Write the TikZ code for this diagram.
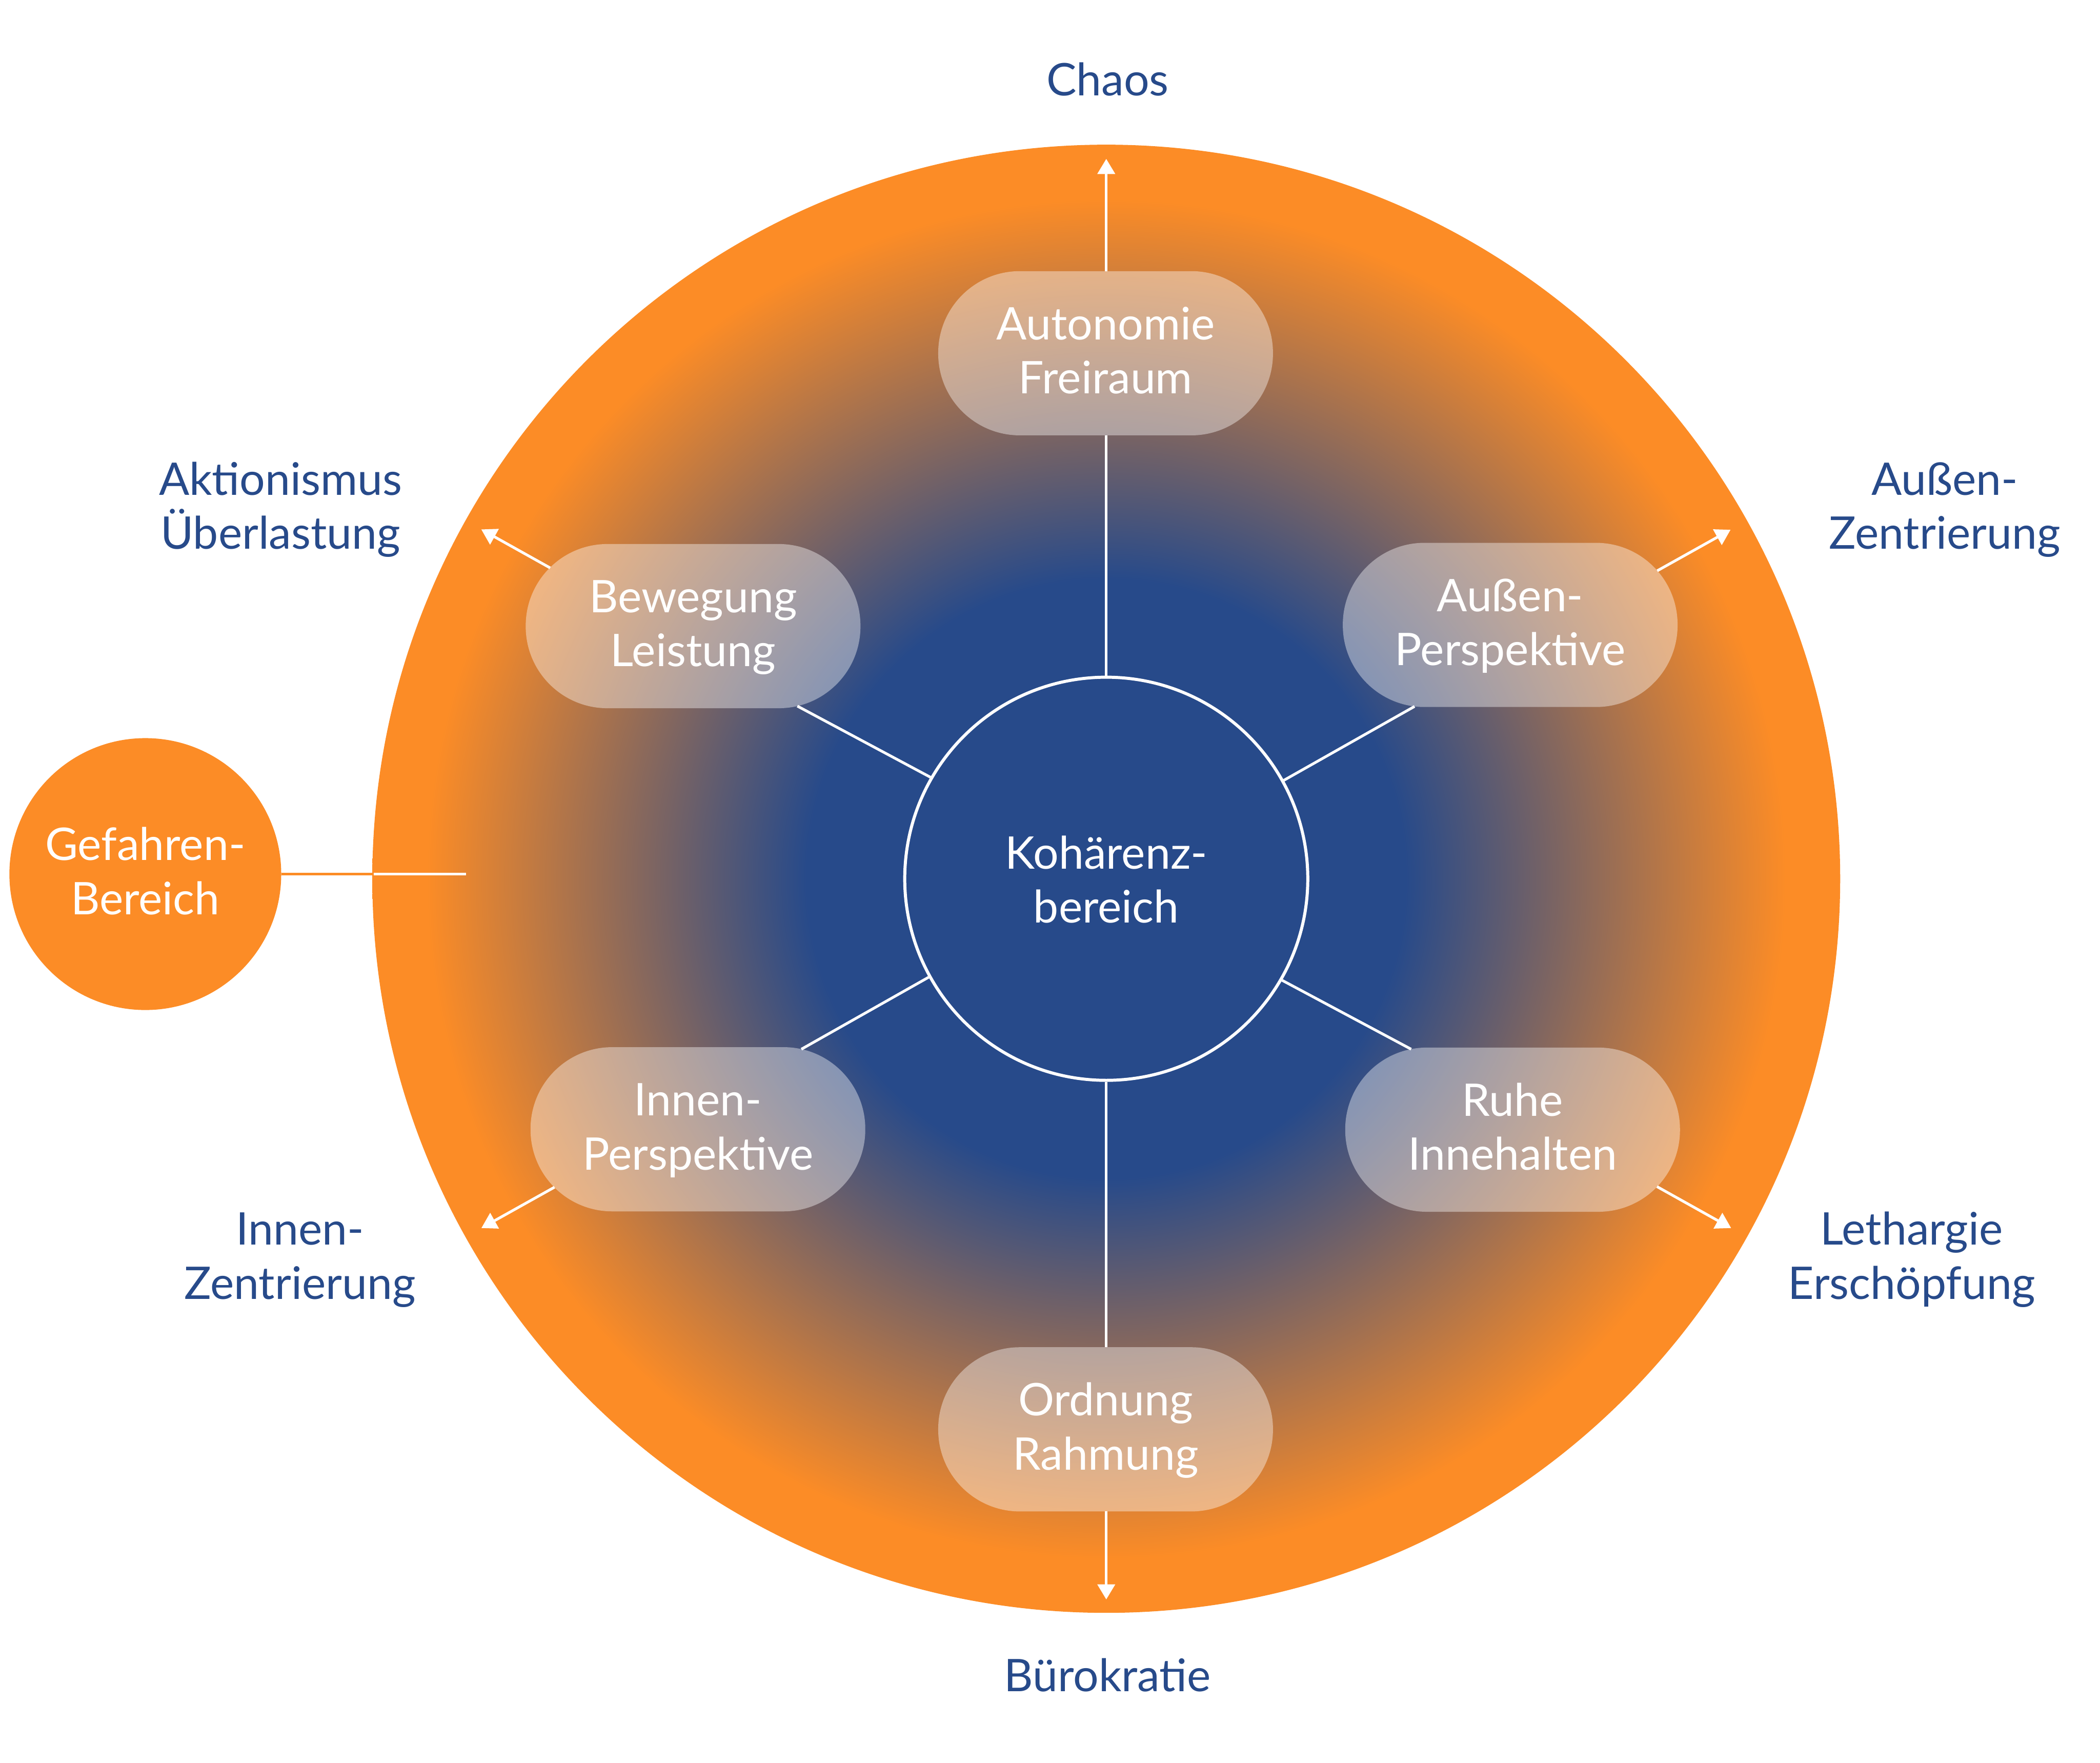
\documentclass[tikz,border=0pt]{standalone}
\usepackage{fontspec}
\setmainfont{Lato}
\usetikzlibrary{arrows.meta,calc}
\definecolor{cblue}{RGB}{39,74,138}
\definecolor{corange}{RGB}{252,140,38}
\pgfdeclareradialshading{bigrad}{\pgfpoint{0bp}{0bp}}{color(0bp)=(cblue); color(10.2bp)=(cblue); color(23.15bp)=(corange); color(25bp)=(corange); color(50bp)=(corange)}
\newcommand{\ls}{\rule[-4.6pt]{0pt}{20.6pt}}
\newcommand{\lstop}{\rule[-4.6pt]{0pt}{23.8pt}}
\begin{document}
\begin{tikzpicture}[x=0.02cm,y=-0.02cm,
  txt/.style={font=\fontsize{19.1pt}{23pt}\selectfont, align=center, inner sep=0pt},
  pill/.style={txt, text=white, fill=white, fill opacity=0.4, text opacity=1, rounded corners=1.22cm, minimum width=5cm, minimum height=2.452cm},
  lab/.style={txt, text=cblue},
  conn/.style={draw=white, line width=1.14pt},
  arr/.style={conn, -{Triangle[width=0.26cm,length=0.226cm]}}
]
\useasboundingbox (0,0) rectangle (1568,1316);
\coordinate (O) at (826,656);
\shade[shading=bigrad] (O) circle (548);

% ray coordinates
\coordinate (a1) at ($(O)+(270:331)$);
\coordinate (a2) at ($(O)+(270:453.6)$);
\coordinate (a3) at ($(O)+(270:537.4)$);
\coordinate (b1) at ($(O)+(209.2:264.2)$);
\coordinate (b2) at ($(O)+(209.2:475.7)$);
\coordinate (b3) at ($(O)+(209.2:534.6)$);
\coordinate (c1) at ($(O)+(330.8:263.7)$);
\coordinate (c2) at ($(O)+(330.8:471.3)$);
\coordinate (c3) at ($(O)+(330.8:534.0)$);
\coordinate (d1) at ($(O)+(150.8:260.8)$);
\coordinate (d2) at ($(O)+(150.8:472.0)$);
\coordinate (d3) at ($(O)+(150.8:534.5)$);
\coordinate (e1) at ($(O)+(29.2:260.8)$);
\coordinate (e2) at ($(O)+(29.2:471.1)$);
\coordinate (e3) at ($(O)+(29.2:534.5)$);
\coordinate (f1) at ($(O)+(90:349.7)$);
\coordinate (f2) at ($(O)+(90:472.3)$);
\coordinate (f3) at ($(O)+(90:538)$);
\coordinate (g1) at (279,652.5);
\coordinate (g2) at (348,652.5);

% nodes
\node[circle, draw=white, line width=1.3pt, fill=cblue, minimum size=6.02cm, txt, text=white] (kern) at (O) {\lstop Kohärenz-\\\ls bereich};
\node[pill] (auto) at (825.5,263.7) {\ls Autonomie\\\ls Freiraum};
\node[pill] (bew) at (517.5,467.4) {\ls Bewegung\\\ls Leistung};
\node[pill] (aus) at (1127.6,466.5) {\ls Außen-\\\ls Perspektive};
\node[pill] (inn) at (521.1,843) {\ls Innen-\\\ls Perspektive};
\node[pill] (ruhe) at (1129.4,843.3) {\ls Ruhe\\\ls Innehalten};
\node[pill] (ord) at (825.5,1067) {\ls Ordnung\\\ls Rahmung};
\node[circle, fill=corange, minimum size=4.06cm, txt, text=white] (gef) at (108.5,652.5) {\ls Gefahren-\\\ls Bereich};

% connectors
\draw[conn] (kern.90) -- (a1);
\draw[arr] (a2) -- (a3);
\draw[conn] (kern.150.8) -- (b1);
\draw[arr] (b2) -- (b3);
\draw[conn] (kern.29.2) -- (c1);
\draw[arr] (c2) -- (c3);
\draw[conn] (kern.209.2) -- (d1);
\draw[arr] (d2) -- (d3);
\draw[conn] (kern.330.8) -- (e1);
\draw[arr] (e2) -- (e3);
\draw[conn] (kern.270) -- (f1);
\draw[arr] (f2) -- (f3);
\draw[corange, line width=1.14pt] (gef.east) -- (g1);
\draw[conn] (g1) -- (g2);

% outer labels
\node[lab] (chaos) at (827,61.2) {\ls Chaos};
\node[lab] (buero) at (827,1252.6) {\ls Bürokratie};
\node[lab] (akt) at (209.5,379.75) {\ls Aktionismus\\\ls Überlastung};
\node[lab] (ausz) at (1452,379.75) {\ls Außen-\\\ls Zentrierung};
\node[lab] (innz) at (224,939.5) {\ls Innen-\\\ls Zentrierung};
\node[lab] (leth) at (1427.3,939.5) {\ls Lethargie\\\ls Erschöpfung};
\end{tikzpicture}
\end{document}
